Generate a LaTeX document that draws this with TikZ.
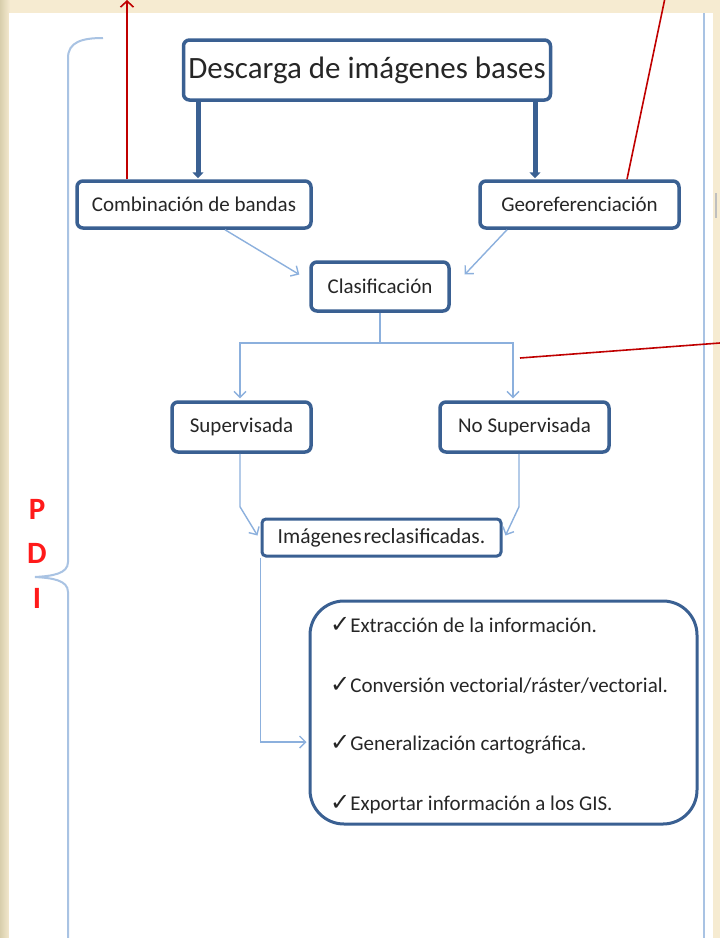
\documentclass[tikz,border=0pt]{standalone}
\usepackage{fontspec}
\setmainfont{Carlito}
\newfontfamily\symf{DejaVu Sans}
\usetikzlibrary{arrows.meta}
\definecolor{bord}{HTML}{3A6092}
\definecolor{conn}{HTML}{8CB0DD}
\definecolor{brk}{HTML}{A9C3E3}
\definecolor{bgc}{HTML}{F6EBD1}
\definecolor{bgl}{HTML}{D8CEAC}
\definecolor{redl}{HTML}{C00000}
\definecolor{pdi}{HTML}{FF1A1A}
\definecolor{txt}{HTML}{262626}
\tikzset{
  box/.style={draw=bord, line width=3.5pt, rounded corners=6pt, fill=white,
    inner sep=0pt, text=txt, font=\fontsize{21}{23}\selectfont},
  thickarr/.style={draw=bord, line width=5pt, -{Triangle[length=6pt,width=11pt]}},
  thinarr/.style={draw=conn, line width=1.4pt, -{Straight Barb[length=6pt,width=12pt]}},
  redarr/.style={draw=redl, line width=1.6pt},
  item/.style={anchor=west, text=txt, inner sep=0pt, font=\fontsize{21}{23}\selectfont},
  pdil/.style={text=pdi, font=\fontsize{31}{31}\selectfont\bfseries, inner sep=0pt},
}
\newcommand{\chk}{{\symf\fontsize{24}{24}\selectfont ✓}}
\begin{document}
\begin{tikzpicture}[x=1pt,y=-1pt]
% background
\useasboundingbox (0,0) rectangle (720,938);
\fill[bgc] (0,0) rectangle (720,938);
\shade[left color=bgl, right color=bgc] (0,0) rectangle (10,938);
\fill[white] (9,13) rectangle (713,938);
% right vertical line
\draw[brk, line width=1.6pt] (704,13) -- (704,938);
% left bracket
\draw[brk, line width=2pt] (103,38) .. controls (82,38) and (68,42) .. (68,58)
  -- (68,562) .. controls (68,574) and (52,576) .. (35,577)
  .. controls (52,578) and (68,580) .. (68,592) -- (68,938);
% PDI
\node[pdil] (p) at (37,509) {P};
\node[pdil] (d) at (37,553) {D};
\node[pdil] (i) at (37,598) {I};
% boxes
\node[box, minimum width=367pt, minimum height=60pt, font=\fontsize{31}{32}\selectfont] (desc) at (367,70) {Descarga de imágenes bases};
\node[box, minimum width=234pt, minimum height=47pt] (comb) at (194,204.5) {Combinación de bandas};
\node[box, minimum width=199pt, minimum height=47pt] (geo) at (579.5,204.5) {Georeferenciación};
\node[box, minimum width=138pt, minimum height=49pt] (clas) at (380,286.5) {Clasificación};
\node[box, minimum width=139pt, minimum height=50pt] (sup) at (241.5,427) {Supervisada};
\node[box, minimum width=169pt, minimum height=50pt] (nosup) at (524.5,427) {No Supervisada};
\node[box, minimum width=239pt, minimum height=37pt, line width=3pt, rounded corners=4pt, font=\fontsize{21.5}{23}\selectfont] (reclas) at (381.5,537.5) {Imágenes\hspace{2pt}reclasificadas.};
\node[box, line width=3pt, rounded corners=34pt, minimum width=387pt, minimum height=223pt] (final) at (503.5,712.5) {};
\node[item] (t1) at (330,625) {\chk Extracción de la información.};
\node[item] (t2) at (330,685) {\chk Conversión vectorial/ráster/vectorial.};
\node[item] (t3) at (330,745) {\chk Generalización cartográfica.};
\node[item] (t4) at (330,805) {\chk Exportar información a los GIS.};
% helper coordinates
\coordinate (xa) at (198,0);
\coordinate (xb) at (535,0);
\coordinate (xc) at (225,0);
\coordinate (xd) at (507,0);
\coordinate (split) at (380,343);
\coordinate (xn) at (513,0);
\coordinate (xs) at (240,0);
\coordinate (xr) at (519,0);
\coordinate (yf) at (0,742);
% thick arrows
\draw[thickarr] (desc.south -| xa) -- ([yshift=1pt]comb.north -| xa);
\draw[thickarr] (desc.south -| xb) -- ([yshift=1pt]geo.north -| xb);
% thin arrows to Clasificación
\draw[thinarr] (comb.south -| xc) -- ([xshift=-10pt,yshift=12pt]clas.west);
\draw[thinarr] (geo.south -| xd) -- ([xshift=14pt,yshift=12pt]clas.east);
% split
\path (nosup.north -| xn) ++(0,-2) coordinate (nsTop);
\path (sup.north -| xs) ++(0,-2) coordinate (sTop);
\draw[conn, line width=1.4pt] (clas.south) -- (split);
\draw[thinarr] (split) -| (sTop);
\draw[thinarr] (split) -| (nsTop);
% to reclas
\draw[thinarr] (sup.south -| xs) -- ++(0,53) -- ([xshift=-3pt,yshift=2pt]reclas.west);
\draw[thinarr] (nosup.south -| xr) -- ++(0,53) -- ([xshift=3pt,yshift=2pt]reclas.east);
% reclas to final
\draw[thinarr] (reclas.south west) -- (reclas.south west |- yf) -- ([xshift=-2pt]final.west |- yf);
% red lines
\coordinate (r1) at (127,0);
\coordinate (r2) at (665,-2);
\coordinate (r3) at (720,343);
\coordinate (r3s) at (520,358);
\draw[redarr, -{Straight Barb[length=6pt,width=13pt]}] (comb.north -| r1) -- (r1);
\coordinate (r2s) at (627,0);
\draw[redarr] (geo.north -| r2s) -- (r2);
\draw[redarr] (r3s) -- (r3);
% small mark at right edge
\draw[gray!50, line width=1.5pt] (716,193) -- (716,218);
\end{tikzpicture}
\end{document}
